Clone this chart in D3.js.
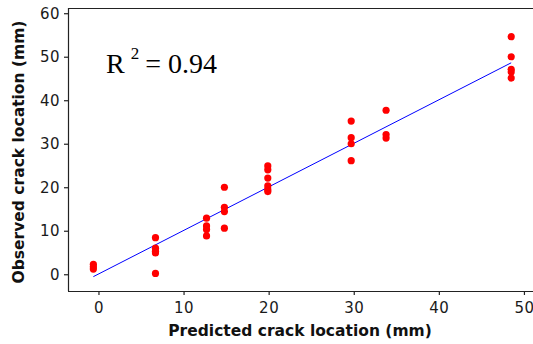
<!DOCTYPE html>
<html>
<head>
<meta charset="utf-8">
<script src="https://cdn.jsdelivr.net/npm/d3@7"></script>
<style>
  body { margin: 0; background: #fff; }
  svg { display: block; }
</style>
</head>
<body>
<div id="chart"></div>
<script>
var svgWidth = 533;
var svgHeight = 344;

// predicted crack location (mm) for each measured point
var predicted = [
  -0.6, -0.6, -0.6,
  6.7, 6.7, 6.7, 6.7, 6.7,
  12.7, 12.7, 12.7, 12.7,
  14.8, 14.8, 14.8, 14.8,
  19.9, 19.9, 19.9, 19.9, 19.9, 19.9,
  29.7, 29.7, 29.7, 29.7,
  33.8, 33.8, 33.8,
  48.5, 48.5, 48.5, 48.5, 48.5
];
// observed crack location (mm)
var observed = [
  2.3, 1.7, 1.2,
  8.4, 6.0, 5.3, 4.9, 0.2,
  12.9, 11.1, 10.3, 8.8,
  20.0, 15.4, 14.4, 10.6,
  24.9, 24.0, 22.1, 20.3, 19.5, 19.0,
  35.2, 31.4, 30.0, 26.1,
  37.7, 32.1, 31.3,
  54.6, 50.0, 47.1, 46.5, 45.1
];
var fitX = [-0.6, 48.5];
var fitY = [-0.55, 48.6];
var xTicks = [0, 10, 20, 30, 40, 50];
var yTicks = [0, 10, 20, 30, 40, 50, 60];

var plotLeft = 68, plotTop = 8, plotRight = 533, plotBottom = 291;

var svg = d3.select("#chart")
  .append("svg")
  .attr("width", svgWidth)
  .attr("height", svgHeight);

var x = d3.scaleLinear().domain([-3.58, 51.3]).range([plotLeft, plotRight + 2]);
var y = d3.scaleLinear().domain([-3.85, 61.2]).range([plotBottom, plotTop]);

var xAxis = d3.axisBottom(x).tickValues(xTicks).tickSize(4).tickSizeOuter(0).tickPadding(7);
var yAxis = d3.axisLeft(y).tickValues(yTicks).tickSize(4).tickSizeOuter(0).tickPadding(4);

var gx = svg.append("g")
  .attr("transform", `translate(0, ${plotBottom})`)
  .call(xAxis);
var gy = svg.append("g")
  .attr("transform", `translate(${plotLeft}, 0)`)
  .call(yAxis);

[gx, gy].forEach(function(g) {
  g.selectAll("text")
    .attr("font-family", "'DejaVu Sans', sans-serif")
    .attr("font-size", "15px")
    .attr("letter-spacing", "0.5px")
    .attr("fill", "#1a1a1a");
  g.selectAll("line, path").attr("stroke", "#222").attr("stroke-width", 1.2);
});
gy.select(".domain").attr("d", `M0.5,${plotTop}V${plotBottom}`);
gx.select(".domain").attr("d", `M${plotLeft},0.5H${plotRight}`);

// top frame line
svg.append("line")
  .attr("x1", plotLeft).attr("x2", plotRight)
  .attr("y1", plotTop + 0.5).attr("y2", plotTop + 0.5)
  .attr("stroke", "#222").attr("stroke-width", 1.2);

// fit line
svg.append("line")
  .attr("x1", x(fitX[0])).attr("y1", y(fitY[0]))
  .attr("x2", x(fitX[1])).attr("y2", y(fitY[1]))
  .attr("stroke", "#0000ff")
  .attr("stroke-width", 1);

svg.selectAll("circle.pt")
  .data(predicted)
  .enter()
  .append("circle")
  .attr("class", "pt")
  .attr("cx", d => x(d))
  .attr("cy", (d, i) => y(observed[i]))
  .attr("r", 3.6)
  .attr("fill", "#ff0000");

// R squared annotation
var r2 = svg.append("text")
  .attr("x", 106)
  .attr("y", 73)
  .attr("font-family", "'Liberation Serif', 'Times New Roman', serif")
  .attr("font-size", "28px")
  .attr("fill", "#000");
r2.append("tspan").text("R");
r2.append("tspan").attr("font-size", "17px").attr("dx", 6).attr("dy", -14).text("2");
r2.append("tspan").attr("dx", 6).attr("dy", 14).text("= 0.94");

svg.append("text")
  .attr("x", 300)
  .attr("y", 336)
  .attr("text-anchor", "middle")
  .attr("font-family", "'DejaVu Sans', sans-serif")
  .attr("font-weight", "bold")
  .attr("font-size", "15.5px")
  .attr("fill", "#111")
  .text("Predicted crack location (mm)");

svg.append("text")
  .attr("transform", "translate(24, 152) rotate(-90)")
  .attr("text-anchor", "middle")
  .attr("font-family", "'DejaVu Sans', sans-serif")
  .attr("font-weight", "bold")
  .attr("font-size", "15.5px")
  .attr("fill", "#111")
  .text("Observed crack location (mm)");
</script>
</body>
</html>
